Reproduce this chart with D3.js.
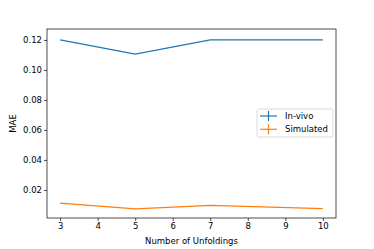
<!DOCTYPE html>
<html>
<head>
<meta charset="utf-8">
<script src="https://cdn.jsdelivr.net/npm/d3@7"></script>
<style>
  body { margin: 0; background: #fff; }
  text { font-family: "DejaVu Sans", sans-serif; fill: #000; }
</style>
</head>
<body>
<div id="chart"></div>
<script>
// values
var unfoldings = [3, 5, 7, 10];
var inVivo = [0.120, 0.1105, 0.120, 0.120];
var simulated = [0.0112, 0.0074, 0.0097, 0.0075];
var xTicks = [3, 4, 5, 6, 7, 8, 9, 10];
var yTicks = [0.02, 0.04, 0.06, 0.08, 0.10, 0.12];
var seriesNames = ["In-vivo", "Simulated"];
var seriesColors = ["#1f77b4", "#ff7f0e"];

var W = 374, H = 249;
var m = { left: 47, right: 38, top: 29, bottom: 31 };
var fs = 8.5;

var svg = d3.select("#chart").append("svg")
    .attr("width", W).attr("height", H);

var x = d3.scaleLinear().domain([2.65, 10.35]).range([m.left, W - m.right]);
var y = d3.scaleLinear().domain([0.0013, 0.1273]).range([H - m.bottom, m.top]);

// axes
var xAxis = svg.append("g")
    .attr("transform", "translate(0," + (H - m.bottom) + ")")
    .call(d3.axisBottom(x).tickValues(xTicks).tickSize(3).tickPadding(2).tickFormat(d3.format("d")));
var yAxis = svg.append("g")
    .attr("transform", "translate(" + m.left + ",0)")
    .call(d3.axisLeft(y).tickValues(yTicks).tickSize(3).tickPadding(2).tickFormat(d3.format(".2f")));

[xAxis, yAxis].forEach(function (g) {
    g.select(".domain").remove();
    g.selectAll("line").attr("stroke", "#000").attr("stroke-width", 0.7);
    g.selectAll("text").attr("font-size", fs).style("font-family", "DejaVu Sans");
});

// frame
svg.append("rect")
    .attr("x", m.left).attr("y", m.top)
    .attr("width", W - m.left - m.right).attr("height", H - m.top - m.bottom)
    .attr("fill", "none").attr("stroke", "#000").attr("stroke-width", 0.7);

// lines
var line = d3.line()
    .x(function (d) { return x(d[0]); })
    .y(function (d) { return y(d[1]); });

[inVivo, simulated].forEach(function (vals, i) {
    svg.append("path")
        .datum(unfoldings.map(function (u, j) { return [u, vals[j]]; }))
        .attr("d", line)
        .attr("fill", "none")
        .attr("stroke", seriesColors[i])
        .attr("stroke-width", 1.2);
});

// axis labels
svg.append("text")
    .attr("x", (m.left + W - m.right) / 2).attr("y", H - 5)
    .attr("text-anchor", "middle").attr("font-size", fs)
    .text("Number of Unfoldings");
svg.append("text")
    .attr("transform", "translate(16," + ((m.top + H - m.bottom) / 2) + ")rotate(-90)")
    .attr("text-anchor", "middle").attr("font-size", fs)
    .text("MAE");

// legend
var lg = svg.append("g").attr("transform", "translate(257,109)");
lg.append("rect")
    .attr("width", 76).attr("height", 28).attr("rx", 2)
    .attr("fill", "#fff").attr("fill-opacity", 0.8)
    .attr("stroke", "#ccc").attr("stroke-width", 0.7);
seriesNames.forEach(function (name, i) {
    var cy = 7 + i * 13.3;
    lg.append("line").attr("x1", 3).attr("x2", 20).attr("y1", cy).attr("y2", cy)
        .attr("stroke", seriesColors[i]).attr("stroke-width", 1.2);
    lg.append("line").attr("x1", 11.5).attr("x2", 11.5).attr("y1", cy - 5).attr("y2", cy + 5)
        .attr("stroke", seriesColors[i]).attr("stroke-width", 1.2);
    lg.append("text").attr("x", 28).attr("y", cy + 3).attr("font-size", fs).text(name);
});
</script>
</body>
</html>
